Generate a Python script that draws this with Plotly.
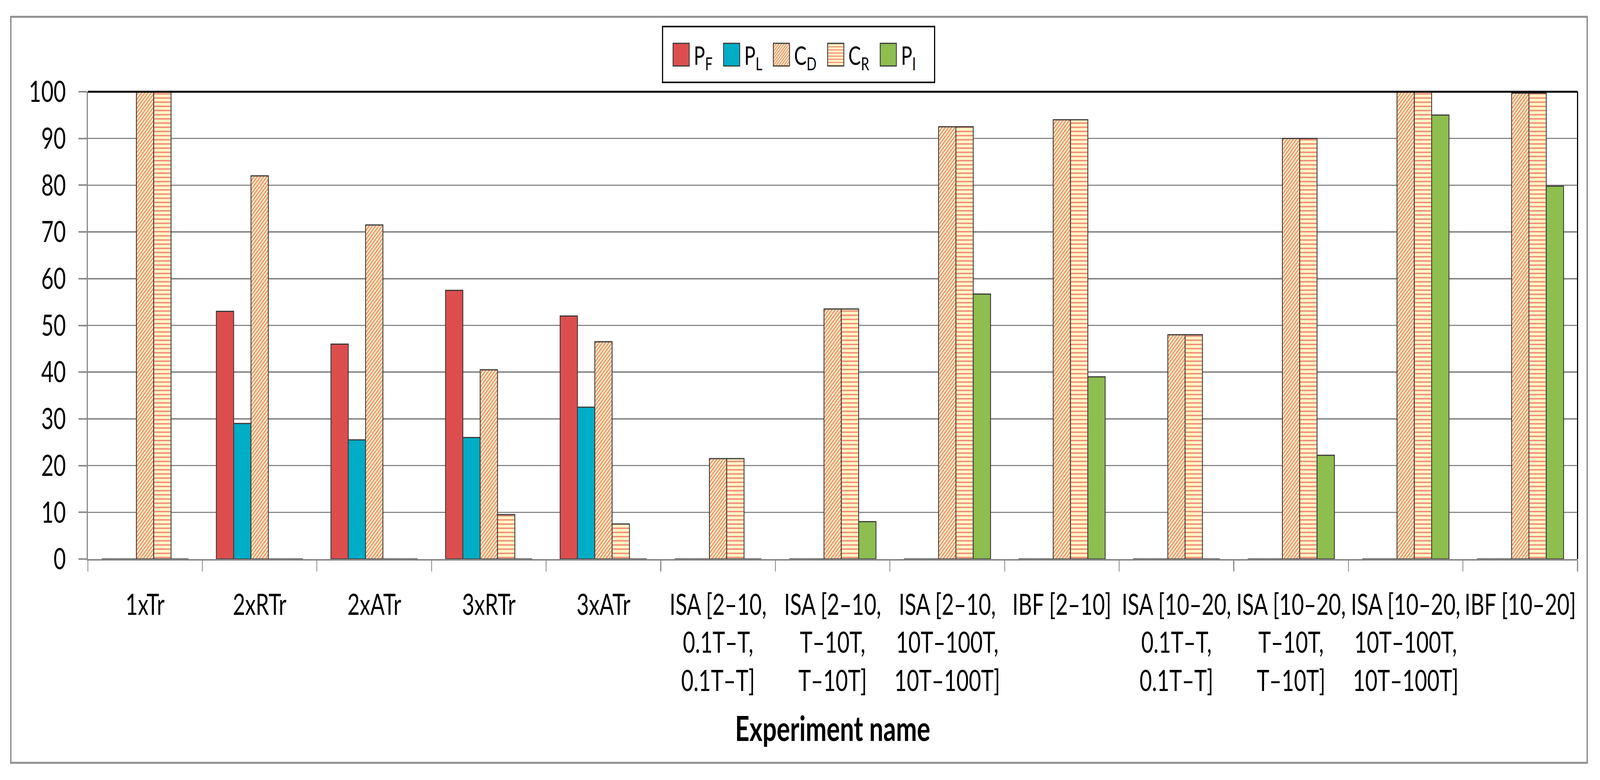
import plotly.graph_objects as go

categories = [
    "1xTr", "2xRTr", "2xATr", "3xRTr", "3xATr",
    "ISA [2–10,<br>0.1T–T,<br>0.1T–T]",
    "ISA [2–10,<br>T–10T,<br>T–10T]",
    "ISA [2–10,<br>10T–100T,<br>10T–100T]",
    "IBF [2–10]",
    "ISA [10–20,<br>0.1T–T,<br>0.1T–T]",
    "ISA [10–20,<br>T–10T,<br>T–10T]",
    "ISA [10–20,<br>10T–100T,<br>10T–100T]",
    "IBF [10–20]",
]
P_F = [0, 53, 46, 57.5, 52, 0, 0, 0, 0, 0, 0, 0, 0]
P_L = [0, 29, 25.5, 26, 32.5, 0, 0, 0, 0, 0, 0, 0, 0]
C_D = [100, 82, 71.5, 40.5, 46.5, 21.5, 53.5, 92.5, 94, 48, 90, 100, 99.7]
C_R = [100, 0, 0, 9.5, 7.5, 21.5, 53.5, 92.5, 94, 48, 90, 100, 99.7]
P_I = [0, 0, 0, 0, 0, 0, 8, 56.7, 39, 0, 22.2, 95, 79.8]
y_ticks = list(range(0, 101, 10))

FONT = "Lato"
W, H = 5634, 1998
# plot area in pixels
L, R, T, B = 309, 5555, 235, 1432
pw, ph = R - L, B - T

def px(x):
    return (x - L) / pw

def py(y):
    return (B - y) / ph

outline = dict(color="#3a3a3a", width=3)

fig = go.Figure()
fig.add_bar(name="P<sub>F</sub>", x=categories, y=P_F,
            marker=dict(color="#DC4E4E", line=outline))
fig.add_bar(name="P<sub>L</sub>", x=categories, y=P_L,
            marker=dict(color="#00ADC6", line=outline))
fig.add_bar(name="C<sub>D</sub>", x=categories, y=C_D,
            marker=dict(color="#FFF6C6", line=outline,
                        pattern=dict(shape="/", fgcolor="#F2896C", bgcolor="#FFF6C6",
                                     size=8, solidity=0.45, fillmode="replace")))
fig.add_bar(name="C<sub>R</sub>", x=categories, y=C_R,
            marker=dict(color="#FFF6C6", line=outline,
                        pattern=dict(shape="-", fgcolor="#F08470", bgcolor="#FFF6C6",
                                     size=10.7, solidity=0.32, fillmode="replace")))
fig.add_bar(name="P<sub>I</sub>", x=categories, y=P_I,
            marker=dict(color="#8DBE4F", line=outline))

grid = "#8a8a8a"
text_gap = 107
fig.update_layout(
    width=W, height=H,
    margin=dict(l=L, r=W - R, t=T, b=H - B, pad=0),
    paper_bgcolor="white", plot_bgcolor="white",
    barmode="group", bargap=0.244, bargroupgap=0,
    font=dict(family=FONT, size=75, color="black"),
    showlegend=True,
    legend=dict(orientation="h", x=px(2336), xanchor="left",
                y=py(140), yanchor="middle",
                borderwidth=0, bgcolor="rgba(0,0,0,0)",
                font=dict(family=FONT, size=66, color="black"),
                itemwidth=text_gap - 10, traceorder="normal",
                itemclick=False, itemdoubleclick=False),
    xaxis=dict(
        type="category", tickson="boundaries", ticks="outside",
        ticklen=28, tickwidth=3, tickcolor=grid,
        showline=True, linecolor=grid, linewidth=4,
        showgrid=False, tickangle=0,
        tickfont=dict(family=FONT, size=75, color="black"),
        ticklabelstandoff=49,
        title=dict(text="<b>Experiment name</b>",
                   font=dict(family=FONT, size=88, color="black"),
                   standoff=52),
    ),
    yaxis=dict(
        range=[0, 100], tickvals=y_ticks, ticks="outside",
        ticklen=28, tickwidth=4, tickcolor=grid,
        showline=True, linecolor=grid, linewidth=4,
        showgrid=True, gridcolor=grid, gridwidth=3.5,
        zeroline=False,
        tickfont=dict(family=FONT, size=75, color="black"),
        ticklabelstandoff=30,
    ),
    shapes=[
        dict(type="rect", xref="paper", yref="paper",
             x0=px(38), x1=px(5589), y0=py(1954), y1=py(43),
             line=dict(color="#8f8f8f", width=5), layer="below"),
        dict(type="rect", xref="paper", yref="paper",
             x0=px(2333), x1=px(3291), y0=py(211), y1=py(68),
             line=dict(color="black", width=4), layer="above"),
        dict(type="line", xref="paper", yref="paper",
             x0=0, x1=1, y0=1, y1=1,
             line=dict(color="black", width=5), layer="above"),
        dict(type="line", xref="paper", yref="paper",
             x0=1, x1=1, y0=0, y1=1,
             line=dict(color="black", width=4), layer="above"),
    ],
)

hw, hh, dx = 28.5, 29, 9
swatch = "M%.2f,%.2fH%.2fV%.2fH%.2fZ" % (dx + hw, hh, dx - hw, -hh, dx + hw)

# fit the W x H figure to the browser window
post = """
(function(){
  var gd = document.getElementById('{plot_id}');
  gd.querySelectorAll('.legend .legendpoints path').forEach(function(p){
    p.setAttribute('d', '%s');
  });
  var de = document.documentElement, b = document.body;
  de.style.overflow = 'hidden'; b.style.overflow = 'hidden';
  b.style.margin = '0'; b.style.padding = '0';
  var kx = de.clientWidth / %d;
  var ky = de.clientHeight / %d;
  gd.style.transformOrigin = '0 0';
  gd.style.transform = 'scale(' + kx + ',' + ky + ')';
})();
""" % (swatch, W, H)
fig.write_html("out.html", post_script=post,
               config={"displayModeBar": False, "staticPlot": True})
